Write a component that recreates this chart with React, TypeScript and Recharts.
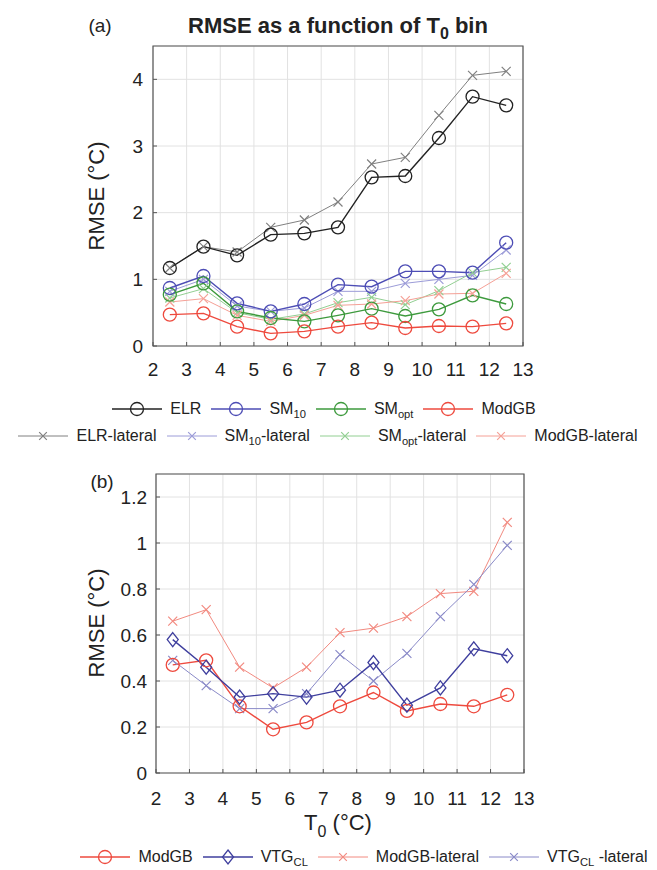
import React from "react";
import { LineChart, Line, XAxis, YAxis, CartesianGrid, ReferenceArea } from "recharts";

// T0 bin centres (°C)
const bins = [2.5, 3.5, 4.5, 5.5, 6.5, 7.5, 8.5, 9.5, 10.5, 11.5, 12.5];
const xTicks = [2, 3, 4, 5, 6, 7, 8, 9, 10, 11, 12, 13];
const yTicksA = [0, 1, 2, 3, 4];
const yTicksB = [0, 0.2, 0.4, 0.6, 0.8, 1, 1.2];

// panel (a)
const elr = [1.17, 1.49, 1.36, 1.67, 1.69, 1.78, 2.53, 2.55, 3.12, 3.74, 3.61];
const elrLateral = [1.17, 1.49, 1.41, 1.78, 1.89, 2.16, 2.73, 2.83, 3.46, 4.06, 4.12];
const sm10 = [0.87, 1.05, 0.64, 0.52, 0.63, 0.92, 0.89, 1.12, 1.12, 1.1, 1.55];
const sm10Lateral = [0.82, 1.0, 0.6, 0.52, 0.57, 0.82, 0.82, 0.94, 1.0, 1.06, 1.44];
const smOpt = [0.77, 0.94, 0.52, 0.42, 0.37, 0.46, 0.56, 0.45, 0.55, 0.76, 0.63];
const smOptLateral = [0.72, 0.86, 0.5, 0.4, 0.48, 0.65, 0.73, 0.62, 0.83, 1.1, 1.18];
const modGB = [0.47, 0.49, 0.29, 0.19, 0.22, 0.29, 0.35, 0.27, 0.3, 0.29, 0.34];
const modGBLateral = [0.66, 0.71, 0.46, 0.37, 0.46, 0.61, 0.63, 0.68, 0.78, 0.79, 1.09];

// panel (b)
const vtgCL = [0.58, 0.46, 0.33, 0.345, 0.33, 0.36, 0.48, 0.295, 0.37, 0.54, 0.51];
const vtgCLLateral = [0.49, 0.38, 0.28, 0.28, 0.345, 0.515, 0.4, 0.52, 0.68, 0.82, 0.99];

const dataA = bins.map((t, i) => ({
  t,
  elr: elr[i],
  elrLateral: elrLateral[i],
  sm10: sm10[i],
  sm10Lateral: sm10Lateral[i],
  smOpt: smOpt[i],
  smOptLateral: smOptLateral[i],
  modGB: modGB[i],
  modGBLateral: modGBLateral[i],
}));

const dataB = bins.map((t, i) => ({
  t,
  modGB: modGB[i],
  vtgCL: vtgCL[i],
  modGBLateral: modGBLateral[i],
  vtgCLLateral: vtgCLLateral[i],
}));

const FONT = "'Liberation Sans', Arial, sans-serif";
const TEXT = "#222";
const BOX = "#555";
const GRID = "#e2e2e2";

type Marker = "circle" | "cross" | "diamond";

const drawMarker = (m: Marker, cx: number, cy: number, color: string, key?: any, scale = 1) => {
  if (m === "circle") {
    return <circle key={key} cx={cx} cy={cy} r={6.5 * scale} fill="none" stroke={color} strokeWidth={1.3} />;
  }
  if (m === "diamond") {
    const h = 7 * scale, w = 5.5 * scale;
    return (
      <polygon
        key={key}
        points={`${cx},${cy - h} ${cx + w},${cy} ${cx},${cy + h} ${cx - w},${cy}`}
        fill="none"
        stroke={color}
        strokeWidth={1.3}
      />
    );
  }
  const s = 4.5 * scale;
  return (
    <path
      key={key}
      d={`M${cx - s},${cy - s}L${cx + s},${cy + s}M${cx - s},${cy + s}L${cx + s},${cy - s}`}
      stroke={color}
      strokeWidth={1.2}
      fill="none"
    />
  );
};

const dotFor = (m: Marker, color: string) => (props: any) => {
  const { cx, cy, index } = props;
  if (cx == null || cy == null) return <g key={index} />;
  return drawMarker(m, cx, cy, color, index);
};

interface Series {
  key: string;
  color: string;
  width: number;
  marker: Marker;
}

const seriesA: Series[] = [
  { key: "elrLateral", color: "#808080", width: 1, marker: "cross" },
  { key: "sm10Lateral", color: "#9c9cd8", width: 1, marker: "cross" },
  { key: "smOptLateral", color: "#92cf92", width: 1, marker: "cross" },
  { key: "modGBLateral", color: "#f5a096", width: 1, marker: "cross" },
  { key: "elr", color: "#222222", width: 1.4, marker: "circle" },
  { key: "sm10", color: "#4d4db5", width: 1.4, marker: "circle" },
  { key: "smOpt", color: "#3d9a3d", width: 1.4, marker: "circle" },
  { key: "modGB", color: "#ee4a3e", width: 1.4, marker: "circle" },
];

const seriesB: Series[] = [
  { key: "modGBLateral", color: "#f28a80", width: 1, marker: "cross" },
  { key: "vtgCLLateral", color: "#8a8ac8", width: 1, marker: "cross" },
  { key: "modGB", color: "#ee4a3e", width: 1.4, marker: "circle" },
  { key: "vtgCL", color: "#3f3f9e", width: 1.4, marker: "diamond" },
];

const tickStyle = { fill: TEXT, fontSize: 19, fontFamily: FONT };

const LegendItem = ({ color, marker, label, width = 1.4 }: { color: string; marker: Marker; label: React.ReactNode; width?: number }) => (
  <span style={{ display: "inline-flex", alignItems: "center", marginRight: 9 }}>
    <svg width={52} height={18} style={{ marginRight: 7 }}>
      <line x1={1} y1={9} x2={51} y2={9} stroke={color} strokeWidth={width} />
      {drawMarker(marker, 26, 9, color, undefined, marker === "cross" ? 0.85 : 1)}
    </svg>
    <span>{label}</span>
  </span>
);

const Sub = ({ children }: { children: React.ReactNode }) => (
  <sub style={{ fontSize: "0.7em", verticalAlign: "-0.35em", lineHeight: 0 }}>{children}</sub>
);

const legendRow = (top: number, centerX: number, children: React.ReactNode) => (
  <div
    style={{
      position: "absolute",
      top,
      left: centerX - 400,
      width: 800,
      display: "flex",
      justifyContent: "center",
      fontFamily: FONT,
      fontSize: 16,
      color: TEXT,
      whiteSpace: "nowrap",
    }}
  >
    {children}
  </div>
);

export default function App() {
  return (
    <div style={{ position: "absolute", left: 0, top: 0, width: 657, height: 870, background: "#fff", overflow: "hidden" }}>
      {/* panel (a) */}
      <div style={{ position: "absolute", left: 0, top: 0 }}>
        <LineChart width={657} height={400} data={dataA} margin={{ top: 46, right: 134, left: 93, bottom: 24 }}>
          <CartesianGrid stroke={GRID} strokeWidth={1} />
          <XAxis
            dataKey="t"
            type="number"
            domain={[2, 13]}
            ticks={xTicks}
            interval={0}
            height={30}
            axisLine={false}
            tickLine={{ stroke: BOX }}
            tickSize={-4}
            tickMargin={21}
            tick={tickStyle}
          />
          <YAxis
            type="number"
            domain={[0, 4.5]}
            ticks={yTicksA}
            interval={0}
            width={60}
            axisLine={false}
            tickLine={{ stroke: BOX }}
            tickSize={-4}
            tickMargin={14}
            tick={tickStyle}
          />
          <ReferenceArea x1={2} x2={13} y1={0} y2={4.5} fill="none" stroke={BOX} strokeWidth={1.2} />
          {seriesA.map((s) => (
            <Line
              key={s.key}
              dataKey={s.key}
              type="linear"
              stroke={s.color}
              strokeWidth={s.width}
              dot={dotFor(s.marker, s.color)}
              activeDot={false}
              isAnimationActive={false}
            />
          ))}
        </LineChart>
      </div>

      {/* panel (b) */}
      <div style={{ position: "absolute", left: 0, top: 440 }}>
        <LineChart width={657} height={380} data={dataB} margin={{ top: 34, right: 133, left: 96, bottom: 17 }}>
          <CartesianGrid stroke={GRID} strokeWidth={1} />
          <XAxis
            dataKey="t"
            type="number"
            domain={[2, 13]}
            ticks={xTicks}
            interval={0}
            height={30}
            axisLine={false}
            tickLine={{ stroke: BOX }}
            tickSize={-4}
            tickMargin={23}
            tick={tickStyle}
          />
          <YAxis
            type="number"
            domain={[0, 1.3]}
            ticks={yTicksB}
            interval={0}
            width={60}
            axisLine={false}
            tickLine={{ stroke: BOX }}
            tickSize={-4}
            tickMargin={13}
            tick={tickStyle}
          />
          <ReferenceArea x1={2} x2={13} y1={0} y2={1.3} fill="none" stroke={BOX} strokeWidth={1.2} />
          {seriesB.map((s) => (
            <Line
              key={s.key}
              dataKey={s.key}
              type="linear"
              stroke={s.color}
              strokeWidth={s.width}
              dot={dotFor(s.marker, s.color)}
              activeDot={false}
              isAnimationActive={false}
            />
          ))}
        </LineChart>
      </div>

      {/* titles and axis labels */}
      <svg width={657} height={870} style={{ position: "absolute", left: 0, top: 0, pointerEvents: "none" }}>
        <text x={100} y={32} fontFamily={FONT} fontSize={19} fill={TEXT} textAnchor="middle">(a)</text>
        <text x={338} y={33} fontFamily={FONT} fontSize={22} fontWeight="bold" fill={TEXT} textAnchor="middle">
          RMSE as a function of T<tspan fontSize={16} dy={6}>0</tspan><tspan dy={-6}> bin</tspan>
        </text>
        <text transform="translate(104,196) rotate(-90)" fontFamily={FONT} fontSize={22} fill={TEXT} textAnchor="middle">
          RMSE (°C)
        </text>
        <text x={102} y={488} fontFamily={FONT} fontSize={19} fill={TEXT} textAnchor="middle">(b)</text>
        <text transform="translate(104,623) rotate(-90)" fontFamily={FONT} fontSize={22} fill={TEXT} textAnchor="middle">
          RMSE (°C)
        </text>
        <text x={338} y={830} fontFamily={FONT} fontSize={22} fill={TEXT} textAnchor="middle">
          T<tspan fontSize={16} dy={7}>0</tspan><tspan dy={-7}> (°C)</tspan>
        </text>
      </svg>

      {/* legends */}
      {legendRow(400, 328, (
        <>
          <LegendItem color="#222222" marker="circle" label="ELR" />
          <LegendItem color="#4d4db5" marker="circle" label={<>SM<Sub>10</Sub></>} />
          <LegendItem color="#3d9a3d" marker="circle" label={<>SM<Sub>opt</Sub></>} />
          <LegendItem color="#ee4a3e" marker="circle" label="ModGB" />
        </>
      ))}
      {legendRow(427, 332, (
        <>
          <LegendItem color="#808080" marker="cross" width={1} label="ELR-lateral" />
          <LegendItem color="#9c9cd8" marker="cross" width={1} label={<>SM<Sub>10</Sub>-lateral</>} />
          <LegendItem color="#92cf92" marker="cross" width={1} label={<>SM<Sub>opt</Sub>-lateral</>} />
          <LegendItem color="#f5a096" marker="cross" width={1} label="ModGB-lateral" />
        </>
      ))}
      {legendRow(848, 368, (
        <>
          <LegendItem color="#ee4a3e" marker="circle" label="ModGB" />
          <LegendItem color="#3f3f9e" marker="diamond" label={<>VTG<Sub>CL</Sub></>} />
          <LegendItem color="#f28a80" marker="cross" width={1} label="ModGB-lateral" />
          <LegendItem color="#8a8ac8" marker="cross" width={1} label={<>VTG<Sub>CL</Sub> -lateral</>} />
        </>
      ))}
    </div>
  );
}
